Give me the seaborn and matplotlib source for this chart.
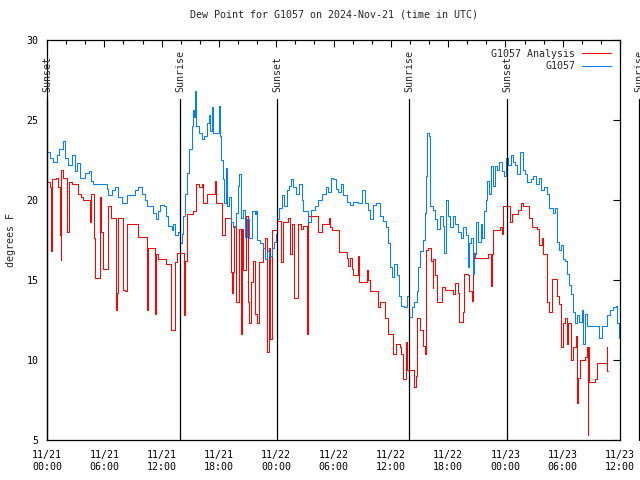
import matplotlib
matplotlib.use("Agg")
import matplotlib.pyplot as plt
import seaborn as sns
import pandas as pd
from matplotlib.ticker import MultipleLocator

# ---- data (hours since 2024-11-21 00:00 UTC, dew point degF) ----
blue_hours = [0.0, 0.3, 0.66, 1.0, 1.3, 1.64, 1.88, 2.23, 2.58, 2.93, 3.17, 3.46, 3.98, 4.43, 4.57, 4.78,
              6.25, 6.4, 6.77, 7.12, 7.47, 7.82, 8.41, 9.21, 9.56, 9.9, 10.26, 10.5, 11.13, 11.4, 11.64, 11.83,
              12.25, 12.46, 12.7, 13.05, 13.23, 13.4, 13.75, 13.93, 14.1, 14.27, 14.45, 14.7, 14.9, 15.15,
              15.25, 15.4, 15.53, 15.65, 15.95, 16.2, 16.44, 16.79, 16.93, 17.07, 17.24, 17.4, 18.05, 18.1,
              18.22, 18.4, 18.53, 18.74, 18.88, 19.1, 19.27, 19.5, 19.79, 20.0, 20.1, 20.28, 20.5, 20.73,
              20.97, 21.2, 21.43, 21.78, 21.9, 22.0, 22.3, 22.65, 22.82, 23.0, 23.28, 23.52, 23.77, 23.98,
              24.1, 24.32, 24.56, 24.8, 25.1, 25.3, 25.55, 25.8, 26.07, 26.42, 26.66, 26.84, 27.36, 27.6,
              28.06, 28.41, 28.76, 29.21, 29.45, 29.7, 29.98, 30.26, 30.5, 30.75, 31.03, 31.38, 31.73, 32.08,
              32.6, 32.95, 33.3, 33.65, 33.8, 34.1, 34.45, 34.87, 35.22, 35.5, 35.74, 35.9, 36.1, 36.34,
              36.6, 36.82, 37.03, 37.38, 37.66, 37.94, 38.17, 38.42, 38.7, 38.9, 39.1, 39.34, 39.55, 39.69,
              39.83, 39.97, 40.1, 40.38, 40.63, 40.87, 41.15, 41.43, 41.57, 41.78, 42.02, 42.2, 42.48, 42.7,
              43.07, 43.3, 43.6, 43.9, 44.05, 44.22, 44.4, 44.57, 44.7, 44.92, 45.16, 45.4, 45.6, 45.76,
              45.93, 46.1, 46.3, 46.49, 46.67, 46.91, 47.1, 47.36, 47.6, 47.85, 48.06, 48.3, 48.55, 48.76,
              49.0, 49.25, 49.53, 49.8, 50.05, 50.3, 50.64, 50.9, 51.2, 51.55, 51.73, 52.04, 52.32, 52.6,
              53.0, 53.2, 53.37, 53.6, 53.8, 54.0, 54.24, 54.4, 54.63, 54.88, 55.11, 55.28, 55.53, 55.74,
              55.99, 56.16, 56.33, 56.58, 57.84, 58.08, 58.6, 58.95, 59.3, 59.56, 59.7, 59.9]
blue_vals = [23.0, 22.6, 22.4, 22.8, 23.2, 23.7, 22.6, 22.2, 22.8, 21.8, 22.3, 21.4, 21.7, 21.8, 21.2, 21.0,
             20.7, 20.3, 20.6, 20.8, 20.2, 19.8, 20.3, 20.6, 20.8, 20.4, 20.0, 19.6, 19.2, 18.8, 19.3, 19.7,
             19.6, 19.0, 18.4, 18.1, 18.5, 17.8, 18.0, 17.3, 17.9, 19.0, 20.4, 21.7, 23.2, 24.6,
             25.6, 25.2, 26.8, 24.6, 24.2, 23.8, 24.0, 24.8, 25.3, 24.3, 25.8, 24.2, 25.9, 24.0,
             22.5, 21.3, 19.8, 22.0, 19.6, 20.2, 18.6, 18.3, 19.2, 20.9, 21.6, 18.9, 19.4, 17.7,
             18.8, 17.6, 19.3, 19.1, 19.3, 17.5, 17.3, 17.0, 16.3, 16.8, 16.5, 17.0, 17.4, 17.9,
             18.8, 19.5, 20.3, 19.6, 20.6, 20.9, 21.3, 20.8, 20.4, 21.0, 20.0, 19.3, 18.6, 19.4,
             19.6, 20.0, 20.4, 20.8, 20.5, 21.4, 21.3, 20.7, 20.5, 21.0, 20.3, 19.9, 19.7, 19.9,
             19.8, 20.6, 19.8, 19.4, 18.8, 19.7, 19.8, 19.0, 18.7, 18.3, 17.3, 15.8, 15.2, 16.0,
             15.3, 14.0, 13.4, 13.3, 14.0, 12.7, 13.3, 13.6, 14.3, 15.8, 16.8, 17.5, 19.2, 21.5,
             24.2, 24.0, 19.6, 19.4, 18.8, 18.2, 19.0, 18.4, 16.7, 20.0, 19.0, 18.3, 19.0, 18.5,
             18.0, 17.6, 18.3, 17.8, 15.8, 17.3, 17.6, 15.4, 16.6, 18.6, 17.4, 18.5, 17.6, 19.3,
             20.0, 21.2, 20.4, 22.1, 20.9, 22.1, 21.9, 22.4, 21.8, 21.5, 22.6, 22.2, 22.8, 22.4,
             22.2, 21.6, 23.0, 21.9, 21.6, 21.1, 21.3, 21.5, 21.0, 21.4, 20.6, 20.8, 20.4, 19.5,
             19.2, 19.5, 17.4, 16.9, 17.2, 16.3, 16.2, 15.4, 14.7, 14.1, 13.0, 12.3, 12.8, 12.4,
             13.1, 11.0, 12.9, 12.1, 11.4, 12.1, 12.8, 13.1, 13.3, 13.4, 12.3, 11.4]

red_hours = [0.0, 0.3, 0.47, 0.57, 0.9, 1.19, 1.36, 1.43, 1.5, 1.71, 2.06, 2.34, 2.58, 3.28, 3.53, 3.8,
             4.5, 4.6, 4.96, 5.06, 5.5, 5.66, 5.9, 6.42, 6.66, 7.22, 7.33, 7.43, 7.99, 8.2, 8.41, 9.56,
             10.44, 10.54, 11.28, 11.38, 11.66, 12.46, 12.98, 13.4, 13.66, 14.35, 14.48, 14.7, 15.3, 15.6,
             15.95, 16.2, 16.37, 16.8, 17.56, 17.66, 18.29, 18.64, 19.23, 19.4, 19.5, 19.6, 19.8, 20.14,
             20.28, 20.38, 20.55, 20.84, 21.0, 21.2, 21.33, 21.6, 21.78, 22.0, 22.23, 22.58, 22.83, 23.0,
             23.2, 23.35, 23.53, 24.05, 24.54, 24.68, 25.27, 25.45, 25.62, 25.86, 26.32, 26.56, 26.84, 27.2,
             27.36, 28.41, 28.76, 29.55, 29.6, 29.8, 30.6, 31.38, 31.5, 31.7, 31.9, 32.08, 32.6, 32.7,
             33.47, 33.6, 33.8, 34.66, 34.9, 35.39, 35.74, 36.2, 36.5, 36.96, 37.1, 37.31, 37.6, 37.7,
             38.46, 38.6, 38.78, 39.06, 39.34, 39.6, 39.69, 39.93, 40.17, 40.38, 40.45, 40.6, 40.87, 41.33,
             41.68, 42.55, 42.72, 43.07, 43.18, 43.53, 43.67, 44.12, 44.22, 44.5, 44.64, 44.82, 46.2, 46.45,
             46.6, 46.74, 47.44, 47.6, 47.77, 48.47, 48.64, 49.34, 49.63, 49.87, 50.5, 50.75, 51.27, 51.55,
             51.8, 51.97, 52.32, 52.6, 52.84, 53.44, 53.6, 53.8, 54.07, 54.24, 54.42, 54.6, 54.84, 55.12,
             55.39, 55.53, 55.64, 55.81, 56.34, 56.58, 56.64, 56.7, 56.78, 57.38, 57.63, 58.6, 58.67, 58.72]
red_vals = [21.1, 20.8, 16.8, 21.3, 21.4, 20.8, 17.8, 16.25, 21.9, 21.4, 18.0, 21.1, 21.0, 20.4, 20.2, 20.0,
            18.6, 20.4, 17.6, 15.1, 20.2, 18.0, 15.7, 19.6, 18.9, 13.1, 14.2, 18.9, 14.4, 14.3, 18.5, 17.7,
            13.1, 17.0, 12.9, 16.6, 16.3, 16.0, 11.9, 16.1, 16.7, 12.8, 16.2, 19.1, 19.3, 21.0,
            20.8, 21.0, 19.8, 20.4, 21.2, 19.8, 17.8, 18.9, 15.5, 14.2, 15.5, 18.4, 13.6, 18.2,
            11.6, 18.2, 15.6, 19.0, 13.6, 12.3, 14.9, 16.2, 12.9, 12.3, 16.1, 17.0, 17.6, 10.5,
            17.0, 11.3, 18.1, 18.7, 16.1, 18.6, 18.9, 16.6, 18.5, 13.9, 18.5, 18.2, 18.4, 11.6,
            19.0, 18.0, 18.5, 18.9, 18.3, 18.1, 16.75, 16.4, 15.9, 16.4, 15.7, 15.3, 16.5, 14.9,
            15.6, 15.0, 14.3, 13.3, 13.6, 12.6, 11.6, 10.4, 11.0, 10.8, 10.4, 8.8, 11.1, 9.4,
            8.3, 9.0, 12.6, 11.9, 10.9, 10.4, 16.9, 17.0, 16.2, 14.5, 16.3, 15.3, 13.6, 14.55,
            14.4, 14.1, 14.8, 14.2, 12.4, 13.0, 15.4, 15.3, 14.3, 13.7, 16.7, 16.4, 16.6, 14.6,
            16.6, 18.1, 18.3, 17.9, 19.6, 18.6, 19.1, 19.4, 19.8, 19.6, 18.9, 18.3, 18.2, 17.2,
            17.6, 16.6, 13.6, 13.0, 15.05, 14.0, 13.5, 10.8, 12.3, 12.6, 11.0, 12.3, 10.0, 10.8,
            11.5, 7.3, 8.9, 10.0, 10.2, 10.8, 5.3, 10.8, 8.6, 8.8, 9.8, 10.8, 9.3, 9.3]

series_labels = ["G1057 Analysis", "G1057"]
series_colors = ["#ff0000", "#0080ff"]

event_hours = [0.05, 13.93, 24.08, 37.94, 48.17, 62.0]
event_names = ["Sunset", "Sunrise", "Sunset", "Sunrise", "Sunset", "Sunrise"]

xtick_hours = [0, 6, 12, 18, 24, 30, 36, 42, 48, 54, 60]
xtick_labels = ["11/21\n00:00", "11/21\n06:00", "11/21\n12:00", "11/21\n18:00",
                "11/22\n00:00", "11/22\n06:00", "11/22\n12:00", "11/22\n18:00",
                "11/23\n00:00", "11/23\n06:00", "11/23\n12:00"]
ytick_vals = [5, 10, 15, 20, 25, 30]

title = "Dew Point for G1057 on 2024-Nov-21 (time in UTC)"
ylabel = "degrees F"

# ---- styling ----
sns.set_theme(style="white")
FONT = "DejaVu Sans Mono"
FS = 7.2
plt.rcParams["font.family"] = [FONT, "DejaVu Sans"]
plt.rcParams["axes.edgecolor"] = "black"
plt.rcParams["axes.linewidth"] = 0.9

fig = plt.figure(figsize=(6.4, 4.8), dpi=100)
fig.patch.set_facecolor("white")
ax = fig.add_axes([47 / 640, 40 / 480, 573 / 640, 400 / 480])

red_df = pd.DataFrame({"hour": red_hours, "dew": red_vals})
blue_df = pd.DataFrame({"hour": blue_hours, "dew": blue_vals})

sns.lineplot(data=red_df, x="hour", y="dew", ax=ax, color=series_colors[0],
             label=series_labels[0], drawstyle="steps-post", estimator=None,
             sort=False, linewidth=0.75)
sns.lineplot(data=blue_df, x="hour", y="dew", ax=ax, color=series_colors[1],
             label=series_labels[1], drawstyle="steps-post", estimator=None,
             sort=False, linewidth=0.75)

ax.set_xlim(0, 60)
ax.set_ylim(5, 30)

# sunrise / sunset markers
for h, name in zip(event_hours, event_names):
    ax.plot([h, h], [5, 26.3], color="black", linewidth=0.9, clip_on=False, zorder=3)
    ax.text(h, 26.75, name, rotation=90, ha="center", va="bottom",
            fontsize=FS, family=[FONT], clip_on=False)

ax.set_xticks(xtick_hours)
ax.set_xticklabels(xtick_labels, fontsize=FS, family=[FONT], linespacing=1.25)
ax.xaxis.set_minor_locator(MultipleLocator(2))
ax.set_yticks(ytick_vals)
ax.set_yticklabels([str(v) for v in ytick_vals], fontsize=FS, family=[FONT])

ax.tick_params(axis="both", which="both", direction="in", top=True, right=True,
               colors="black", width=0.8)
ax.tick_params(axis="both", which="major", length=5, pad=7)
ax.tick_params(axis="x", which="minor", length=3)
ax.tick_params(axis="y", which="major", pad=6)

ax.set_xlabel("")
ax.set_ylabel(ylabel, fontsize=FS, family=[FONT], labelpad=8)
ax.set_title(title, fontsize=FS, family=[FONT], pad=16)

for s in ax.spines.values():
    s.set_visible(True)
    s.set_color("black")
    s.set_linewidth(0.9)

leg = ax.legend(loc="upper right", frameon=False, markerfirst=False,
                prop={"family": FONT, "size": FS}, handlelength=2.9,
                handletextpad=0.7, labelspacing=0.25, borderaxespad=0.7,
                borderpad=0.2)

fig.savefig("out.png", dpi=100, facecolor="white")
